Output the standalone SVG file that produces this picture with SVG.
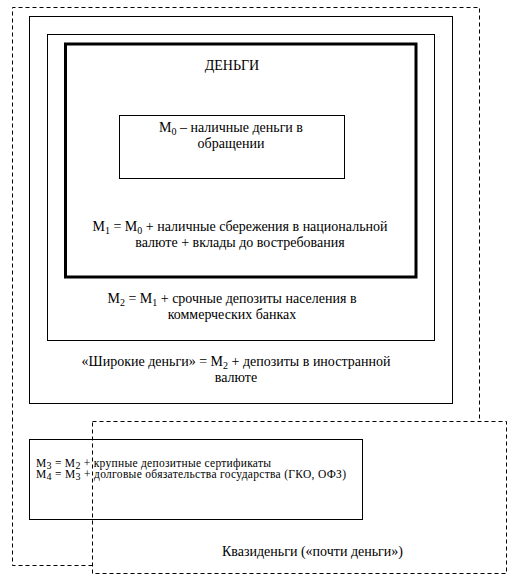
<svg xmlns="http://www.w3.org/2000/svg" width="515" height="575" viewBox="0 0 515 575">
<style>
.box{fill:none;stroke:#000;stroke-width:1}
.dash{fill:none;stroke:#000;stroke-width:1;stroke-dasharray:4,3}
text{font-family:"Liberation Serif","Times New Roman",serif;font-size:14px;fill:#000}
.c{text-anchor:middle}
.s{font-size:10px}
.sm{font-size:11.5px}
</style>
<rect width="515" height="575" fill="#fff"/>
<g id="connectors"></g>
<g id="quasi-outer">
<path class="dash" d="M92.5,565.5 H12.5 V7.5 H479.5 V422"/>
</g>
<g id="broad">
<rect class="box" x="29.5" y="16.5" width="423" height="387"/>
<text class="c" x="236" y="366">«Широкие деньги» = М<tspan class="s" dy="3">2</tspan><tspan dy="-3"> + депозиты в иностранной</tspan></text>
<text class="c" x="236" y="382">валюте</text>
</g>
<g id="m2">
<rect class="box" x="47.5" y="34.5" width="387" height="306"/>
<text class="c" x="232" y="303">М<tspan class="s" dy="3">2</tspan><tspan dy="-3"> = М</tspan><tspan class="s" dy="3">1</tspan><tspan dy="-3"> + срочные депозиты населения в</tspan></text>
<text class="c" x="232" y="319">коммерческих банках</text>
</g>
<g id="m1">
<rect x="65.5" y="44" width="350.5" height="233" fill="none" stroke="#000" stroke-width="3"/>
<text class="c" x="232" y="70">ДЕНЬГИ</text>
<text class="c" x="240" y="231">М<tspan class="s" dy="3">1</tspan><tspan dy="-3"> = М</tspan><tspan class="s" dy="3">0</tspan><tspan dy="-3"> + наличные сбережения в национальной</tspan></text>
<text class="c" x="240" y="247">валюте + вклады до востребования</text>
</g>
<g id="m0">
<rect class="box" x="119.5" y="115.5" width="225" height="63"/>
<text class="c" x="231" y="132">М<tspan class="s" dy="3">0</tspan><tspan dy="-3"> – наличные деньги в</tspan></text>
<text class="c" x="231" y="148">обращении</text>
</g>
<g id="quasi">
<rect x="92.5" y="421.5" width="414" height="152" fill="#fff" stroke="#000" stroke-dasharray="4,3"/>
<text x="222" y="556">Квазиденьги («почти деньги»)</text>
</g>
<g id="m3m4">
<rect class="box" x="29.5" y="439.5" width="333" height="80"/>
<text class="sm" x="36" y="467" textLength="235" lengthAdjust="spacing">М<tspan class="s" dy="2">3</tspan><tspan dy="-2"> = М</tspan><tspan class="s" dy="2">2</tspan><tspan dy="-2"> + крупные депозитные сертификаты</tspan></text>
<text class="sm" x="36" y="478" textLength="310" lengthAdjust="spacing">М<tspan class="s" dy="2">4</tspan><tspan dy="-2"> = М</tspan><tspan class="s" dy="2">3</tspan><tspan dy="-2"> + долговые обязательства государства (ГКО, ОФЗ)</tspan></text>
</g>
</svg>
